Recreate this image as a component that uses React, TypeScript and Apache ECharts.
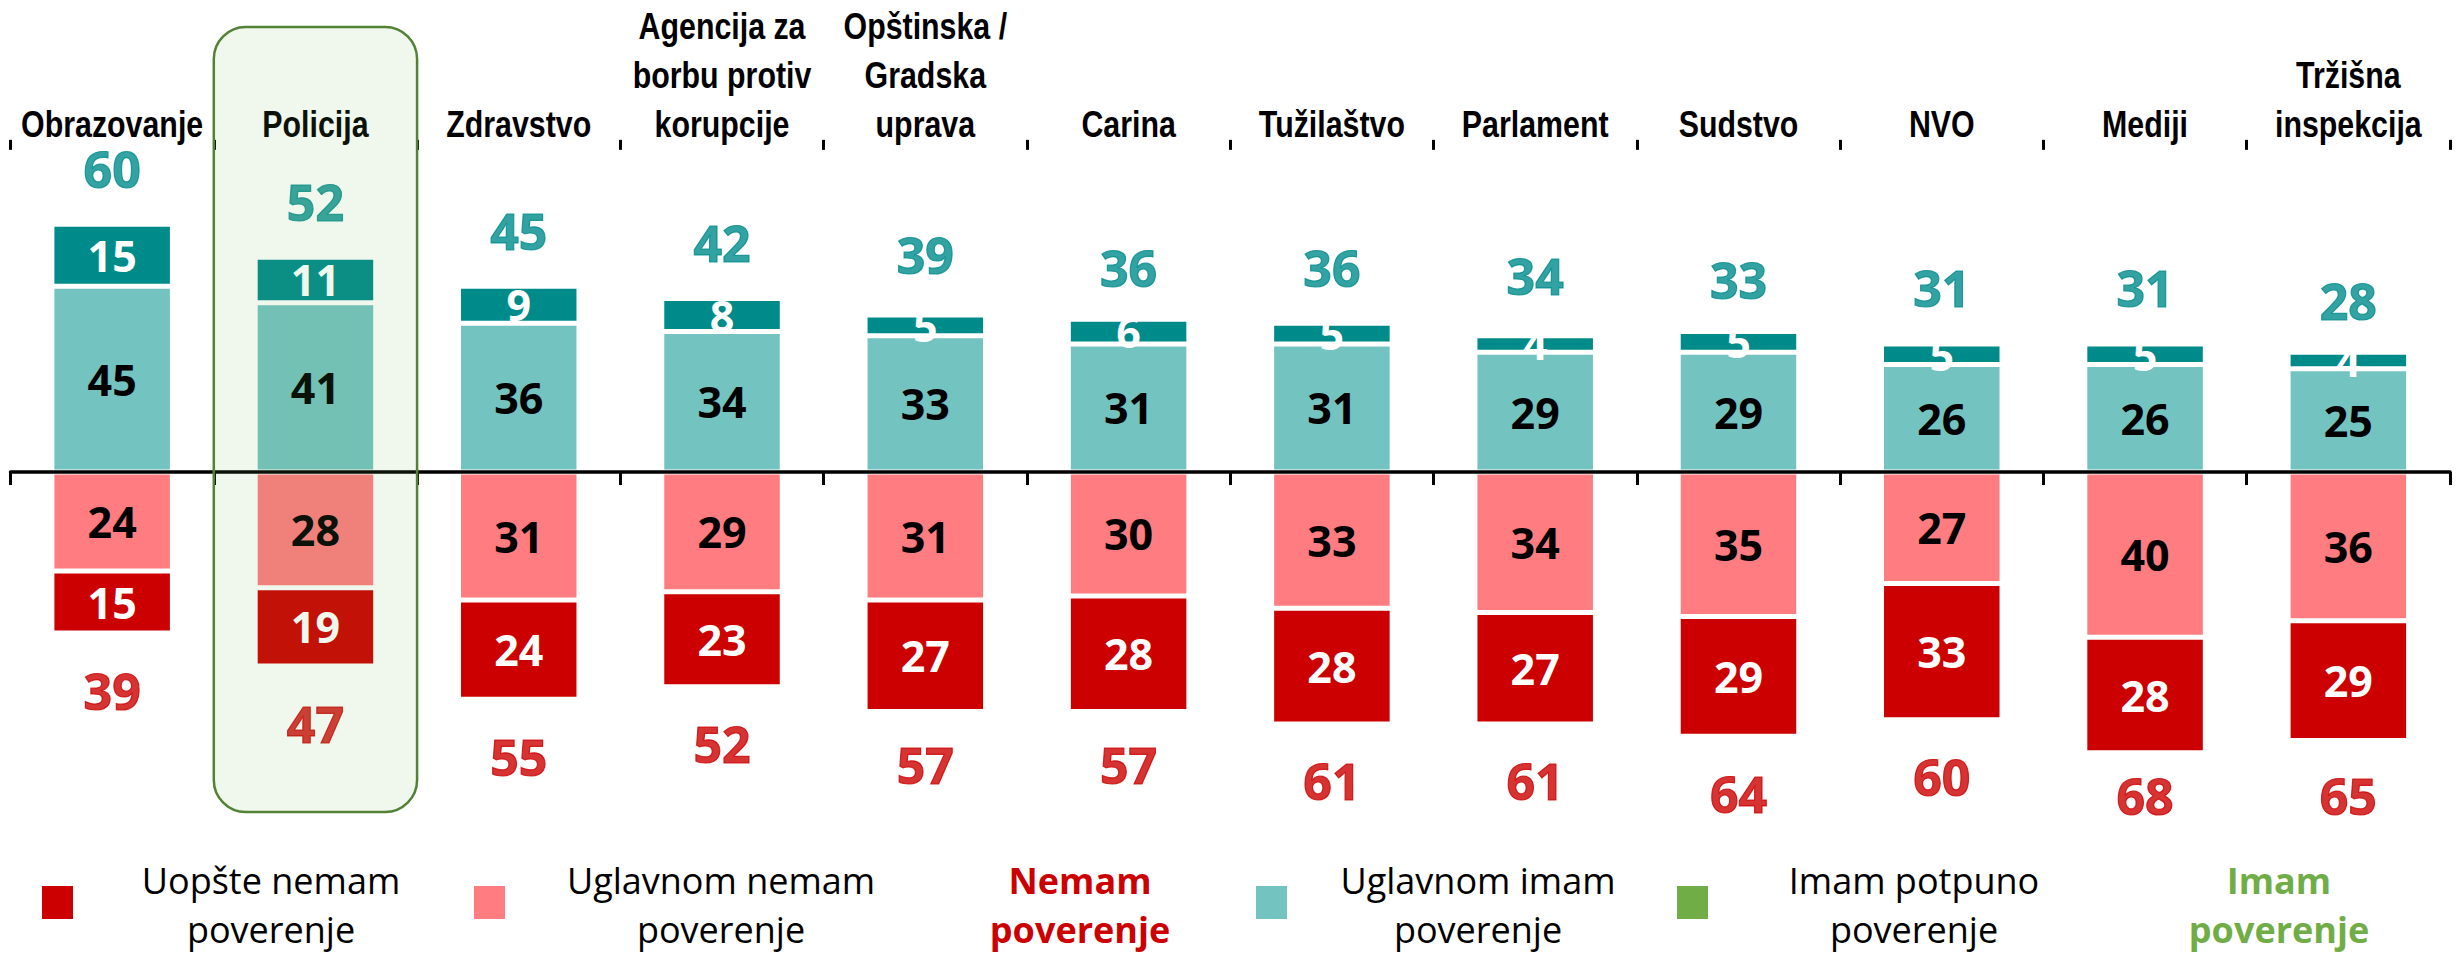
import React, { useEffect, useRef } from "react";
import * as echarts from "echarts";

// ---------------- data ----------------
const categories = [
  "Obrazovanje",
  "Policija",
  "Zdravstvo",
  "Agencija za\nborbu protiv\nkorupcije",
  "Opštinska /\nGradska\nuprava",
  "Carina",
  "Tužilaštvo",
  "Parlament",
  "Sudstvo",
  "NVO",
  "Mediji",
  "Tržišna\ninspekcija",
];
const mostlyTrust = [45, 41, 36, 34, 33, 31, 31, 29, 29, 26, 26, 25];
const fullyTrust = [15, 11, 9, 8, 5, 6, 5, 4, 5, 5, 5, 4];
const mostlyDistrust = [24, 28, 31, 29, 31, 30, 33, 34, 35, 27, 40, 36];
const noTrust = [15, 19, 24, 23, 27, 28, 28, 27, 29, 33, 28, 29];
const trustTotal = [60, 52, 45, 42, 39, 36, 36, 34, 33, 31, 31, 28];
const distrustTotal = [39, 47, 55, 52, 57, 57, 61, 61, 64, 60, 68, 65];
const legendLabels = [
  "Uopšte nemam\npoverenje",
  "Uglavnom nemam\npoverenje",
  "Nemam\npoverenje",
  "Uglavnom imam\npoverenje",
  "Imam potpuno\npoverenje",
  "Imam\npoverenje",
];
const highlightIndex = 1;

// ---------------- layout / style ----------------
const W = 2458;
const H = 954;
const GRID_LEFT = 10.5;
const GRID_RIGHT = 8;
const Y_MIN = -80;
const Y_MAX = 78;
const PX_PER_UNIT = 4.13;
const ZERO_Y = 472;
const GRID_TOP = ZERO_Y - Y_MAX * PX_PER_UNIT;
const GRID_BOTTOM = H - (ZERO_Y - Y_MIN * PX_PER_UNIT);
const NEG_TOTAL_MAX_Y = 795.5;
const CAT_LABEL_BOTTOM = 148.2;

const C_DARK_RED = "#CC0000";
const C_LIGHT_RED = "#FF7C80";
const C_LIGHT_TEAL = "#73C3C1";
const C_DARK_TEAL = "#008B8B";
const C_GREEN = "#70AD47";
const NUM_FONT = "'Open Sans', 'Noto Sans', sans-serif";
const CAT_FONT = "'Liberation Sans', Arial, sans-serif";

export default function App() {
  const ref = useRef<HTMLDivElement>(null);

  useEffect(() => {
    if (!ref.current) return;
    const chart = echarts.init(ref.current, undefined, { renderer: "svg" });

    const segLabel = (color: string) => ({
      show: true,
      position: "inside",
      color,
      fontFamily: NUM_FONT,
      fontWeight: "bold",
      fontSize: 43,
      formatter: (p: any) => String(Math.abs(p.value)),
    });
    const barBase = {
      type: "bar",
      stack: "total",
      barWidth: 120.5,
      xAxisIndex: 0,
      yAxisIndex: 0,
    };
    const itemStyle = (color: string) => ({
      color,
      borderColor: "#ffffff",
      borderWidth: 2.5,
    });

    const band = (W - GRID_LEFT - GRID_RIGHT) / categories.length;
    const boxX = GRID_LEFT + band * highlightIndex;

    const legendSquares = [
      { x: 42, color: C_DARK_RED },
      { x: 474, color: C_LIGHT_RED },
      { x: 1256, color: C_LIGHT_TEAL },
      { x: 1677, color: C_GREEN },
    ];
    const legendTexts = [
      { x: 271, color: "#000000", bold: false },
      { x: 721, color: "#000000", bold: false },
      { x: 1080, color: C_DARK_RED, bold: true },
      { x: 1478, color: "#000000", bold: false },
      { x: 1914, color: "#000000", bold: false },
      { x: 2279, color: C_GREEN, bold: true },
    ];

    const graphic: any[] = [
      // category labels (narrow bold face emulated by horizontal scaling)
      ...categories.map((c, i) => ({
        type: "text",
        x: GRID_LEFT + band * (i + 0.5),
        y: CAT_LABEL_BOTTOM,
        scaleX: 0.82,
        z: 20,
        style: {
          text: c,
          fill: "#000000",
          fontFamily: CAT_FONT,
          fontWeight: "bold",
          fontSize: 37,
          lineHeight: 49,
          align: "center",
          verticalAlign: "bottom",
          textAlign: "center",
          textVerticalAlign: "bottom",
        },
      })),
      {
        type: "rect",
        z: 100,
        silent: true,
        shape: { x: boxX, y: 27, width: band, height: 812 - 27, r: 32 },
        style: { fill: "rgba(112,173,71,0.1)", stroke: "#548235", lineWidth: 2.5 },
      },
      ...legendSquares.map((s) => ({
        type: "rect",
        shape: { x: s.x, y: 886, width: 31, height: 33 },
        style: { fill: s.color },
      })),
      ...legendTexts.map((t, i) => ({
        type: "text",
        x: t.x,
        y: 905,
        style: {
          text: legendLabels[i],
          fill: t.color,
          fontFamily: NUM_FONT,
          fontSize: 36,
          fontWeight: t.bold ? "bold" : "normal",
          lineHeight: 49,
          align: "center",
          verticalAlign: "middle",
          textAlign: "center",
          textVerticalAlign: "middle",
        },
      })),
    ];

    const totalLabel = (color: string) => ({
      show: true,
      color,
      fontFamily: NUM_FONT,
      fontWeight: "bold",
      fontSize: 50,
      lineHeight: 50,
      textBorderColor: color,
      textBorderWidth: 1.2,
    });

    chart.setOption({
      animation: false,
      backgroundColor: "#ffffff",
      grid: {
        left: GRID_LEFT,
        right: GRID_RIGHT,
        top: GRID_TOP,
        bottom: GRID_BOTTOM,
        containLabel: false,
      },
      xAxis: [
        {
          type: "category",
          data: categories,
          position: "bottom",
          z: 10,
          axisLine: { show: true, onZero: true, lineStyle: { color: "#000000", width: 3.5 } },
          axisTick: { show: true, length: 13, inside: false, lineStyle: { color: "#000000", width: 3 } },
          axisLabel: { show: false },
          splitLine: { show: false },
        },
        {
          type: "category",
          data: categories,
          position: "top",
          z: 10,
          axisLine: { show: false, onZero: true },
          axisTick: { show: true, length: 10, inside: false, lineStyle: { color: "#000000", width: 3 } },
          axisLabel: { show: false },
          splitLine: { show: false },
        },
      ],
      yAxis: {
        type: "value",
        min: Y_MIN,
        max: Y_MAX,
        show: false,
        splitLine: { show: false },
      },
      series: [
        {
          ...barBase,
          name: "Uglavnom imam poverenje",
          data: mostlyTrust,
          itemStyle: itemStyle(C_LIGHT_TEAL),
          label: segLabel("#000000"),
        },
        {
          ...barBase,
          name: "Imam potpuno poverenje",
          data: fullyTrust,
          itemStyle: itemStyle(C_DARK_TEAL),
          label: segLabel("#ffffff"),
        },
        {
          ...barBase,
          name: "Uglavnom nemam poverenje",
          data: mostlyDistrust.map((v) => -v),
          itemStyle: itemStyle(C_LIGHT_RED),
          label: segLabel("#000000"),
        },
        {
          ...barBase,
          name: "Uopšte nemam poverenje",
          data: noTrust.map((v) => -v),
          itemStyle: itemStyle(C_DARK_RED),
          label: segLabel("#ffffff"),
        },
        {
          type: "scatter",
          name: "Imam poverenje",
          data: trustTotal,
          symbolSize: 1,
          itemStyle: { color: "rgba(0,0,0,0)" },
          z: 5,
          label: { ...totalLabel(C_DARK_TEAL), position: "top", distance: 30 },
        },
        {
          type: "scatter",
          name: "Nemam poverenje",
          data: distrustTotal.map((v) => -v),
          symbolSize: 1,
          itemStyle: { color: "rgba(0,0,0,0)" },
          z: 5,
          label: {
            ...totalLabel(C_DARK_RED),
            position: "bottom",
            distance: 32,
            formatter: (p: any) => String(Math.abs(p.value)),
          },
          labelLayout: (p: any) => {
            const r = p.labelRect || p.rect;
            const cy = r.y + r.height / 2;
            if (cy <= NEG_TOTAL_MAX_Y) return {};
            return {
              x: r.x + r.width / 2,
              y: NEG_TOTAL_MAX_Y,
              align: "center",
              verticalAlign: "middle",
            };
          },
        },
      ],
      graphic,
    });

    return () => {
      chart.dispose();
    };
  }, []);

  return (
    <div
      ref={ref}
      style={{ position: "absolute", left: 0, top: 0, width: W, height: H, background: "#fff" }}
    />
  );
}
